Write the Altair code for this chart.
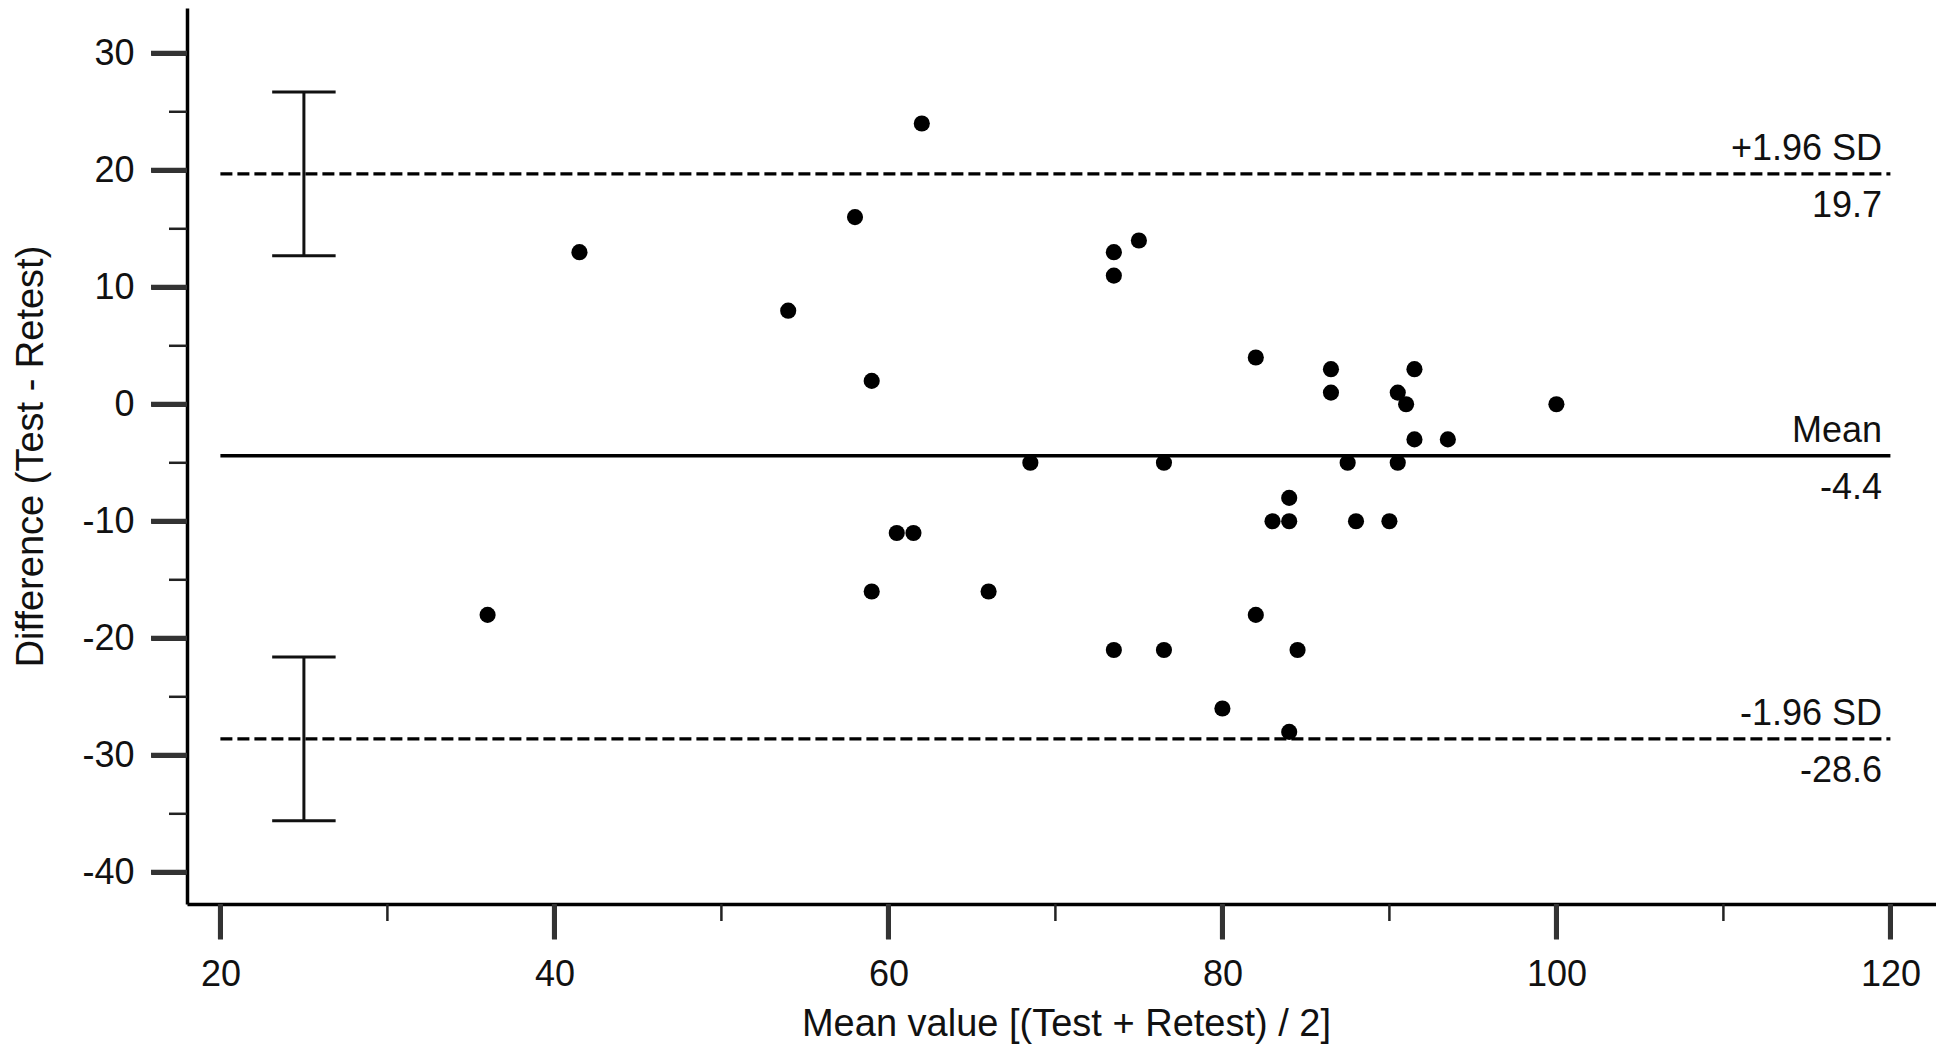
import altair as alt
import pandas as pd

# ---- data ----
mean_value = [36, 41.5, 54, 58, 59, 59, 60.5, 61.5, 62, 66, 68.5, 73.5, 73.5, 73.5, 75,
              76.5, 76.5, 80, 82, 82, 83, 84, 84, 84, 84.5, 86.5, 86.5, 87.5, 88, 90,
              90.5, 90.5, 91, 91.5, 91.5, 93.5, 100]
difference = [-18, 13, 8, 16, 2, -16, -11, -11, 24, -16, -5, 13, 11, -21, 14,
              -5, -21, -26, 4, -18, -10, -8, -10, -28, -21, 3, 1, -5, -10, -10,
              1, -5, 0, 3, -3, -3, 0]

limit_names = ["+1.96 SD", "Mean", "-1.96 SD"]
limit_values = [19.7, -4.4, -28.6]
limit_labels = ["19.7", "-4.4", "-28.6"]
limit_dashed = [True, False, True]
line_start = [20, 20, 20]
line_end = [120, 120, 120]
label_pos = [119.5, 119.5, 119.5]

ci_x = [25, 25]
ci_lower = [12.7, -35.6]
ci_upper = [26.7, -21.6]
cap_left = [23.1, 23.1]
cap_right = [26.9, 26.9]

x_ticks = [20, 40, 60, 80, 100, 120]
x_minor = [30, 50, 70, 90, 110]
y_ticks = [-40, -30, -20, -10, 0, 10, 20, 30]
y_minor = [-35, -25, -15, -5, 5, 15, 25]

FONT = "Liberation Sans"
W, H = 1749, 896

pts = pd.DataFrame({"m": mean_value, "d": difference})
lim = pd.DataFrame({"name": limit_names, "v": limit_values, "lab": limit_labels,
                    "dashed": limit_dashed, "x1": line_start, "x2": line_end,
                    "lx": label_pos})
ci = pd.DataFrame({"x": ci_x, "lo": ci_lower, "hi": ci_upper,
                   "cl": cap_left, "cr": cap_right})
xm = pd.DataFrame({"v": x_minor})
ym = pd.DataFrame({"v": y_minor})
xM = pd.DataFrame({"v": x_ticks})
yM = pd.DataFrame({"v": y_ticks})

xs = alt.Scale(domain=[18, 122.73], nice=False, zero=False)
ys = alt.Scale(domain=[-42.71, 33.87], nice=False, zero=False)

x_axis = alt.Axis(values=x_ticks, tickSize=35, tickWidth=5, tickColor="#333",
                  domainColor="#000", domainWidth=3.5, grid=False,
                  labelExpr="'' + datum.value",
                  labelFont=FONT, labelFontSize=36, labelColor="#111", labelPadding=18,
                  title="Mean value [(Test + Retest) / 2]", titleFont=FONT,
                  titleFontSize=38, titleFontWeight="normal", titleColor="#111",
                  titleBaseline="alphabetic", titleY=131, titleX=879)
y_axis = alt.Axis(values=y_ticks, tickSize=36, tickWidth=5, tickColor="#333",
                  domainColor="#000", domainWidth=3.5, grid=False,
                  labelExpr="'' + datum.value",
                  labelFont=FONT, labelFontSize=36, labelColor="#111", labelPadding=17,
                  title="Difference (Test - Retest)", titleFont=FONT,
                  titleFontSize=38, titleFontWeight="normal", titleColor="#111",
                  titleAngle=270, titleBaseline="middle", titleAlign="center",
                  titleX=-156, titleY=448)


def X(field):
    return alt.X(field, scale=xs, axis=x_axis)


def Y(field):
    return alt.Y(field, scale=ys, axis=y_axis)


points = alt.Chart(pts).mark_circle(size=260, color="#000", opacity=1).encode(
    x=X("m:Q"), y=Y("d:Q"))

solid = alt.Chart(lim).transform_filter("!datum.dashed").mark_rule(
    color="#000", strokeWidth=3.6).encode(x=X("x1:Q"), x2="x2:Q", y=Y("v:Q"))

dashed = alt.Chart(lim).transform_filter("datum.dashed").mark_rule(
    color="#000", strokeWidth=3.2, strokeDash=[12, 5]).encode(
    x=X("x1:Q"), x2="x2:Q", y=Y("v:Q"))

name_text = alt.Chart(lim).mark_text(
    align="right", baseline="alphabetic", dy=-14, font=FONT, fontSize=36,
    color="#111").encode(x=X("lx:Q"), y=Y("v:Q"), text="name:N")

value_text = alt.Chart(lim).mark_text(
    align="right", baseline="alphabetic", dy=43, font=FONT, fontSize=36,
    color="#111").encode(x=X("lx:Q"), y=Y("v:Q"), text="lab:N")

ci_bar = alt.Chart(ci).mark_rule(color="#111", strokeWidth=3).encode(
    x=X("x:Q"), y=Y("lo:Q"), y2="hi:Q")
cap_lo = alt.Chart(ci).mark_rule(color="#111", strokeWidth=3).encode(
    x=X("cl:Q"), x2="cr:Q", y=Y("lo:Q"))
cap_hi = alt.Chart(ci).mark_rule(color="#111", strokeWidth=3).encode(
    x=X("cl:Q"), x2="cr:Q", y=Y("hi:Q"))

x_minor_ticks = alt.Chart(xm).mark_rule(color="#222", strokeWidth=2.5).encode(
    x=X("v:Q"), y=alt.value(H), y2=alt.value(H + 17))
y_minor_ticks = alt.Chart(ym).mark_rule(color="#222", strokeWidth=2.5).encode(
    y=Y("v:Q"), x=alt.value(0), x2=alt.value(-18))

# heavier major ticks drawn over the axis ticks
x_major_ticks = alt.Chart(xM).mark_rule(color="#333", strokeWidth=5).encode(
    x=X("v:Q"), y=alt.value(H), y2=alt.value(H + 35))
y_major_ticks = alt.Chart(yM).mark_rule(color="#333", strokeWidth=5).encode(
    y=Y("v:Q"), x=alt.value(0), x2=alt.value(-36))

chart = alt.layer(
    dashed, solid, ci_bar, cap_lo, cap_hi, x_minor_ticks, y_minor_ticks,
    x_major_ticks, y_major_ticks, name_text, value_text, points,
).properties(
    width=W, height=H,
    autosize=alt.AutoSizeParams(type="none"),
    padding={"left": 179, "top": 0, "right": 0, "bottom": 140},
    background="#ffffff",
).configure_view(stroke=None)

chart.save("out.html", embed_options={"renderer": "svg", "actions": False})
